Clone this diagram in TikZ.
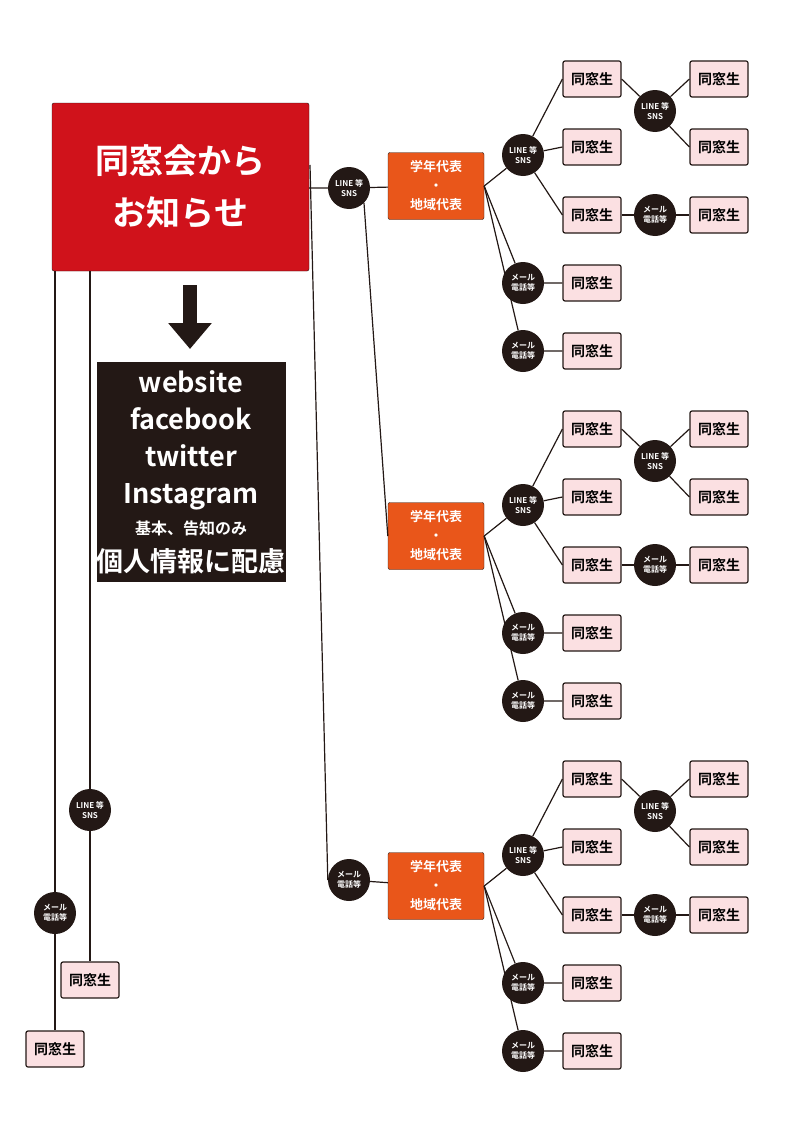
\documentclass[tikz,border=0pt]{standalone}
\usepackage{fontspec}
\setmainfont{Noto Sans CJK JP}[BoldFont={* Bold}]
\usetikzlibrary{arrows.meta,positioning}
\definecolor{darkbrown}{HTML}{231815}
\definecolor{headred}{HTML}{D0121B}
\definecolor{leadorange}{HTML}{E9561A}
\definecolor{mempink}{HTML}{FBE0E2}
\tikzset{
  member/.style={draw=darkbrown,line width=1.2pt,fill=mempink,rounded corners=2pt,
    minimum width=58pt,minimum height=36pt,inner sep=0pt,font=\bfseries\fontsize{14}{14}\selectfont},
  via/.style={circle,fill=darkbrown,text=white,minimum size=42pt,inner sep=0pt,align=center,
    font=\bfseries\fontsize{8}{10}\selectfont},
  leader/.style={draw=darkbrown,fill=leadorange,text=white,rounded corners=2pt,minimum width=96pt,
    minimum height=67pt,inner sep=0pt,align=center,font=\bfseries\fontsize{13}{19}\selectfont},
  link/.style={darkbrown,line width=1.2pt}
}
\begin{document}
\begin{tikzpicture}[x=1pt,y=-1pt]
\useasboundingbox (0,0) rectangle (800,1132);

\node[draw=darkbrown,fill=headred,text=white,rounded corners=2pt,minimum width=257pt,minimum height=168pt,
  align=center,font=\bfseries\fontsize{34}{52}\selectfont] (head) at (180.5,187) {同窓会から\\お知らせ};
\node[fill=darkbrown,text=white,minimum width=168pt,minimum height=220pt,align=center,inner sep=0pt,
  font=\bfseries\fontsize{27}{37}\selectfont] (web) at (191,472)
  {website\\facebook\\twitter\\Instagram\\[-6pt]\fontsize{16}{24}\selectfont 基本、告知のみ\\個人情報に配慮};
\draw[darkbrown,line width=14pt,-{Triangle[width=42pt,length=26pt]}] (190,285) -- (190,349);

% left column
\node[via] (lv1) at (90,810) {LINE 等\\SNS};
\node[member] (lm1) at (90,980) {同窓生};
\node[via] (lv2) at (55,913) {メール\\電話等};
\node[member] (lm2) at (55,1049) {同窓生};
\draw[link] (90,271) -- (lv1) -- (lm1);
\draw[link] (55,271) -- (lv2) -- (lm2);

% groups
\foreach \g/\Y in {1/186,2/536,3/886}{
  \node[leader] (lead\g) at (436,\Y) {学年代表\\・\\地域代表};
  \node[via] (gl\g) at (523,\Y-31) {LINE 等\\SNS};
  \node[via] (gm\g a) at (523,\Y+97) {メール\\電話等};
  \node[via] (gm\g b) at (523,\Y+165) {メール\\電話等};
  \foreach \k/\dy in {1/-107,2/-39,3/29,4/97,5/165}
    \node[member] (m\g\k) at (592,\Y+\dy) {同窓生};
  \node[via] (sl\g) at (655,\Y-75) {LINE 等\\SNS};
  \node[via] (sm\g) at (655,\Y+29) {メール\\電話等};
  \node[member] (n\g a) at (719,\Y-107) {同窓生};
  \node[member] (n\g b) at (719,\Y-39) {同窓生};
  \node[member] (n\g c) at (719,\Y+29) {同窓生};
  \draw[link] (lead\g.east) -- (gl\g);
  \draw[link] (gl\g) -- (m\g1.west) (gl\g) -- (m\g2.west) (gl\g) -- (m\g3.west);
  \draw[link] (lead\g.east) -- (gm\g a) -- (m\g4);
  \draw[link] (lead\g.east) -- (gm\g b) -- (m\g5);
  \draw[link] (m\g1.east) -- (sl\g) -- (n\g a.west) (sl\g) -- (n\g b.west);
  \draw[link] (m\g3) -- (sm\g) -- (n\g c);
}

% head to leaders
\node[via] (hv1) at (349,188) {LINE 等\\SNS};
\node[via] (hv3) at (349,880) {メール\\電話等};
\coordinate (hout) at (310,165);
\draw[link] (head.east |- hv1) -- (hv1) -- (lead1);
\draw[link] (hv1.-45) -- (lead2.west);
\draw[link] (hout) -- (hv3.west) (hv3) -- (lead3);
\end{tikzpicture}
\end{document}
